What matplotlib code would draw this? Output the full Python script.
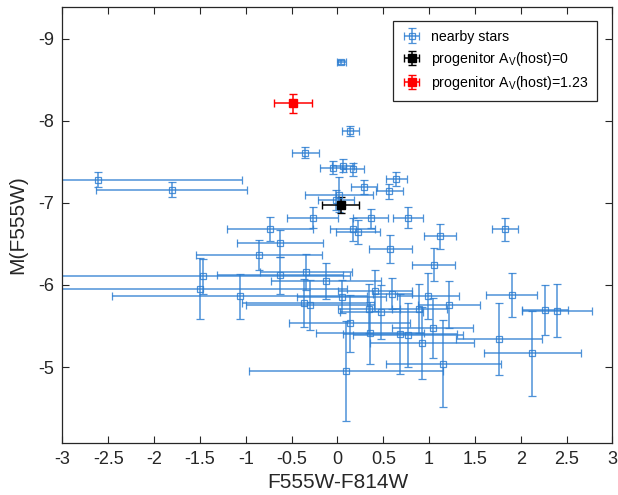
import matplotlib.pyplot as plt

plt.rcParams['font.family'] = ['Liberation Sans', 'DejaVu Sans']
plt.rcParams['axes.unicode_minus'] = False

# nearby stars: colour, absolute magnitude and their errors
star_color = [0.04, 0.14, -0.35, -2.615, -1.81, -0.05, 0.06, 0.17, 0.29, 0.565,
              0.64, 0.02, -0.015, -0.27, 0.365, 0.77, 0.165, 0.225, 1.12, 1.83,
              0.575, 1.05, -0.735, -0.63, -0.855, -1.465, -1.495, -1.065, -0.625, -0.345,
              -0.13, -0.36, -0.30, 0.045, 0.135, 0.41, 0.345, 0.48, 0.355, 0.60,
              0.99, 1.215, 0.89, 1.04, 0.68, 0.77, 0.92, 1.155, 1.76, 2.125,
              1.90, 2.265, 2.395, 0.095]
star_mag = [-8.715, -7.875, -7.61, -7.28, -7.16, -7.43, -7.45, -7.41, -7.195, -7.14,
            -7.29, -7.10, -7.03, -6.82, -6.81, -6.82, -6.68, -6.645, -6.59, -6.68,
            -6.44, -6.245, -6.68, -6.505, -6.365, -6.105, -5.955, -5.86, -6.115, -6.16,
            -6.05, -5.78, -5.755, -5.855, -5.53, -5.93, -5.71, -5.67, -5.415, -5.895,
            -5.87, -5.76, -5.71, -5.475, -5.40, -5.39, -5.29, -5.04, -5.345, -5.165,
            -5.88, -5.695, -5.685, -4.955]
star_color_err = [0.05, 0.09, 0.15, 1.57, 0.82, 0.14, 0.12, 0.12, 0.145, 0.145,
                  0.115, 0.37, 0.2, 0.28, 0.19, 0.165, 0.25, 0.24, 0.175, 0.145,
                  0.235, 0.235, 0.47, 0.47, 0.69, 1.6, 1.6, 1.39, 0.69, 0.5,
                  0.6, 0.68, 0.7, 0.49, 0.66, 0.4, 0.34, 0.45, 0.59, 0.21,
                  0.34, 0.34, 0.3, 0.44, 0.62, 0.6, 0.57, 0.63, 0.47, 0.53,
                  0.275, 0.25, 0.385, 1.06]
star_mag_err = [0.02, 0.06, 0.07, 0.09, 0.09, 0.08, 0.08, 0.08, 0.085, 0.09,
                0.085, 0.21, 0.12, 0.13, 0.12, 0.13, 0.14, 0.15, 0.15, 0.14,
                0.17, 0.2, 0.145, 0.165, 0.18, 0.21, 0.37, 0.27, 0.22, 0.22,
                0.22, 0.29, 0.31, 0.2, 0.345, 0.25, 0.3, 0.33, 0.38, 0.19,
                0.28, 0.29, 0.3, 0.36, 0.49, 0.39, 0.44, 0.53, 0.44, 0.52,
                0.265, 0.3, 0.32, 0.61]

# progenitor for the two host extinctions: (colour, mag, colour err, mag err)
prog_av0 = (0.035, -6.976, 0.2, 0.10)
prog_av123 = (-0.485, -8.21, 0.205, 0.11)

fig = plt.figure(figsize=(6.18, 4.95), dpi=100)
ax = fig.add_axes([0.101, 0.106, 0.890, 0.879])

blue = '#2f7fd2'
ax.errorbar(star_color, star_mag, xerr=star_color_err, yerr=star_mag_err,
            fmt='s', color=blue, mfc='none', mec=blue, ms=4, mew=0.9,
            elinewidth=1.1, capsize=3, capthick=1.1, alpha=0.85,
            label='nearby stars')
ax.errorbar(prog_av0[0], prog_av0[1], xerr=prog_av0[2], yerr=prog_av0[3],
            fmt='s', color='black', ms=6, elinewidth=1.1, capsize=3,
            label='progenitor A$_\\mathregular{V}$(host)=0')
ax.errorbar(prog_av123[0], prog_av123[1], xerr=prog_av123[2], yerr=prog_av123[3],
            fmt='s', color='red', ms=6, elinewidth=1.1, capsize=3,
            label='progenitor A$_\\mathregular{V}$(host)=1.23')

ax.set_xlim(-3, 3)
ax.set_ylim(-4.08, -9.38)
ax.set_xticks([-3, -2.5, -2, -1.5, -1, -0.5, 0, 0.5, 1, 1.5, 2, 2.5, 3])
ax.set_xticklabels(['-3', '-2.5', '-2', '-1.5', '-1', '-0.5', '0', '0.5', '1',
                    '1.5', '2', '2.5', '3'])
ax.set_yticks([-9, -8, -7, -6, -5])
ax.set_yticklabels(['-9', '-8', '-7', '-6', '-5'])
ax.tick_params(direction='in', top=True, right=True, length=5,
               labelsize=13, color='#262626', labelcolor='#262626', pad=6)
for s in ax.spines.values():
    s.set_color('#262626')
    s.set_linewidth(0.9)

ax.set_xlabel('F555W-F814W', fontsize=15, color='#262626')
ax.set_ylabel('M(F555W)', fontsize=15, color='#262626', labelpad=8)

leg = ax.legend(loc='upper right', fontsize=10.2, fancybox=False,
                edgecolor='#262626', framealpha=1, borderpad=0.6,
                handlelength=1.4, handletextpad=0.7, labelspacing=0.45,
                bbox_to_anchor=(0.985, 0.985))
leg.get_frame().set_linewidth(0.9)

fig.savefig('out.png', dpi=100)
